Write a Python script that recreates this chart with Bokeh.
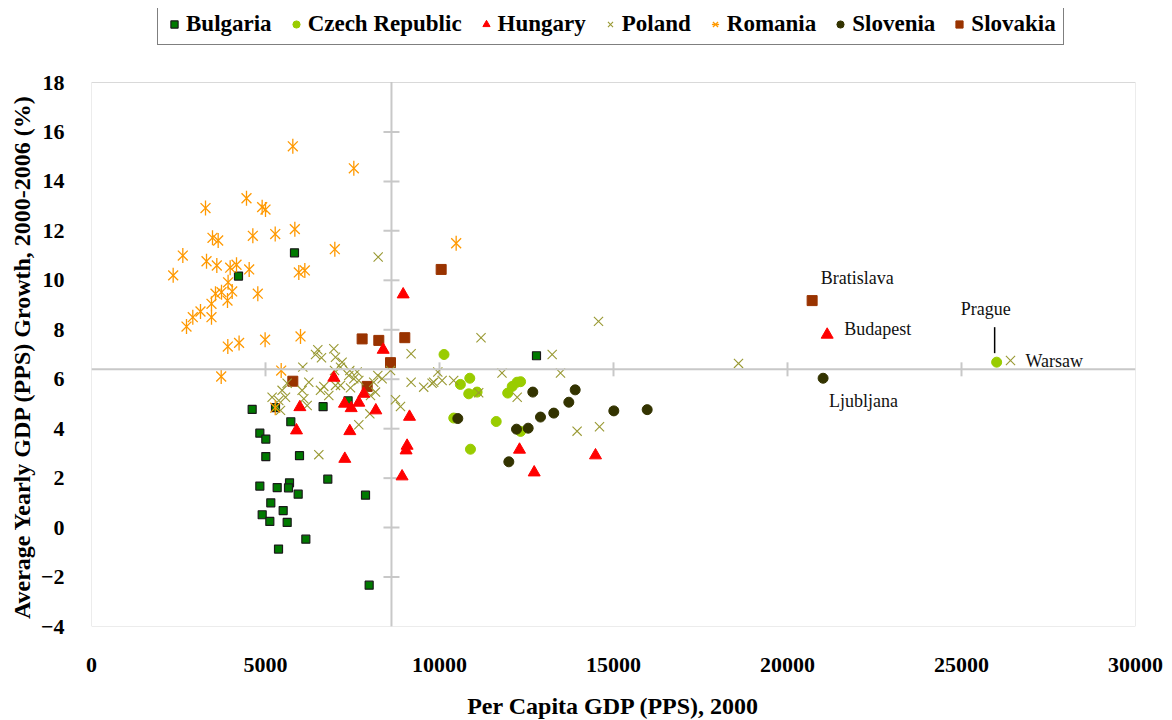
import numpy as np
from bokeh.plotting import figure
from bokeh.models import Legend, LegendItem, Span, FixedTicker, Range1d, BoxAnnotation
from bokeh.core.properties import value
from bokeh.embed import file_html
from bokeh.resources import INLINE

# ---------------- data ----------------
bulgaria_x = [5833, 4224, 4617, 6655, 7374, 5727, 4837, 5009, 5009, 5977, 6790, 4837, 5336, 5690,
              5661, 5939, 7874, 5152, 5508, 4905, 5124, 5623, 6159, 5374, 7979, 12787, 5287]
bulgaria_y = [11.11, 10.17, 4.78, 4.89, 5.13, 4.28, 3.82, 3.58, 2.87, 2.91, 1.96, 1.68, 1.62, 1.81,
              1.61, 1.35, 1.31, 1.00, 0.69, 0.52, 0.25, 0.21, -0.47, -0.87, -2.33, 6.95, 4.85]

czech_x = [10130, 10870, 10600, 10840, 11080, 12230, 12090, 11960, 12330, 10410, 11630, 10890, 12330, 26010]
czech_y = [7.00, 6.04, 5.79, 5.41, 5.48, 5.88, 5.71, 5.44, 5.90, 4.43, 4.29, 3.17, 3.89, 6.69]

hungary_x = [6963, 8382, 5987, 7270, 7462, 7681, 7825, 8170, 9138, 5891, 7423, 9069, 9040, 7279,
             8925, 8956, 12299, 12721, 14483, 21140]
hungary_y = [6.06, 7.19, 4.87, 5.01, 4.83, 5.05, 5.41, 4.74, 4.48, 3.93, 3.90, 3.31, 3.12, 2.78,
             2.07, 9.43, 3.15, 2.23, 2.92, 7.80]

poland_x = [6503, 6609, 6437, 6963, 7011, 7201, 7155, 7422, 7635, 7537, 7681, 7394, 6983, 8227,
            8351, 8109, 8592, 9184, 9184, 9546, 6072, 5621, 5477, 6052, 6244, 6580, 6819, 6675,
            5190, 5382, 5575, 6101, 6198, 7155, 7011, 7443, 8017, 8161, 7998, 8736, 8879, 5431,
            6532, 7681, 9833, 8238, 11193, 13238, 9951, 11796, 13477, 9787, 10075, 10408, 11126,
            12233, 13954, 14598, 14569, 18592, 26408]
poland_y = [7.19, 6.87, 7.00, 7.23, 6.89, 6.69, 6.49, 6.35, 6.29, 6.02, 5.95, 6.15, 6.35, 6.15,
            6.02, 5.88, 6.35, 7.03, 5.88, 5.68, 6.49, 5.84, 5.55, 5.55, 5.88, 5.55, 5.34, 5.71,
            5.27, 5.14, 5.27, 5.21, 4.94, 5.75, 5.75, 5.65, 5.34, 5.48, 4.60, 5.17, 4.90, 4.74,
            2.95, 4.16, 5.88, 10.94, 7.68, 7.00, 6.29, 6.25, 6.25, 5.84, 5.95, 5.95, 5.45,
            5.27, 3.90, 4.08, 8.34, 6.64, 6.76]

romania_x = [5785, 7538, 4454, 3276, 4904, 5000, 5843, 4636, 5279, 3477, 3640, 6992, 2624, 3305,
             3601, 3985, 4167, 4531, 2347, 5957, 6130, 3925, 3563, 3736, 4043, 4779, 3448, 3908,
             3132, 2911, 3448, 2730, 3917, 4241, 4989, 6006, 5451, 3727, 10479, 5280]
romania_y = [15.42, 14.53, 13.32, 12.92, 12.96, 12.86, 12.07, 11.80, 11.87, 11.72, 11.61, 11.26, 11.00, 10.77,
             10.60, 10.51, 10.63, 10.44, 10.20, 10.32, 10.40, 9.92, 9.46, 9.52, 9.55, 9.46, 9.05, 9.18,
             8.74, 8.51, 8.51, 8.13, 7.32, 7.47, 7.60, 7.73, 6.35, 6.11, 11.50, 4.85]

slovenia_x = [12681, 13899, 13716, 15009, 15968, 13284, 12902, 12548, 12213, 10526, 11992, 21023]
slovenia_y = [5.48, 5.57, 5.07, 4.72, 4.77, 4.63, 4.47, 4.02, 3.98, 4.41, 2.66, 6.04]

slovakia_x = [7777, 8256, 9003, 8592, 5785, 7922, 10048, 20708]
slovakia_y = [7.63, 7.57, 7.68, 6.67, 5.92, 5.71, 10.44, 9.18]

x_ticks = [0, 5000, 10000, 15000, 20000, 25000, 30000]
y_ticks = [-4, -2, 0, 2, 4, 6, 8, 10, 12, 14, 16, 18]
x_cross = 8620   # vertical reference line
y_cross = 6.4    # horizontal reference line

x_title = "Per Capita GDP (PPS), 2000"
y_title = "Average Yearly GDP (PPS) Growth, 2000-2006 (%)"

# capital cities (last point of each series)
capitals = ["Bratislava", "Budapest", "Prague", "Warsaw", "Ljubljana"]

# ---------------- figure ----------------
# The drawing frame is extended upward by TOP_PX pixels so that the legend,
# which sits above the plot box, lives inside the (unclipped) frame.
PW, PH = 1044, 544     # plot box in pixels
TOP_PX = 74
x0, x1 = x_ticks[0], x_ticks[-1]
y0, y1 = y_ticks[0], y_ticks[-1]
ux = (x1 - x0) / PW    # data units per pixel
uy = (y1 - y0) / PH
p = figure(frame_width=PW, frame_height=PH + TOP_PX,
           x_range=Range1d(x0, x1), y_range=Range1d(y0, y1 + TOP_PX * uy),
           output_backend="svg", toolbar_location=None,
           min_border_left=91, min_border_right=30, min_border_top=8, min_border_bottom=94)
p.background_fill_color = "white"
p.border_fill_color = "white"
p.outline_line_color = None
p.xgrid.visible = False
p.ygrid.visible = False

# plot box outline
p.add_layout(BoxAnnotation(left=x0, right=x1, bottom=y0, top=y1, fill_color=None, fill_alpha=0,
                           line_color="#808080", line_width=1))

FONT = "Liberation Serif"
for ax in (p.xaxis[0], p.yaxis[0]):
    ax.axis_line_color = None
    ax.major_tick_line_color = None
    ax.minor_tick_line_color = None
    ax.major_label_text_font = FONT
    ax.major_label_text_font_style = "bold"
    ax.major_label_text_font_size = "22px"
    ax.major_label_text_color = "black"
    ax.axis_label_text_font = FONT
    ax.axis_label_text_font_style = "bold"
    ax.axis_label_text_font_size = "24px"
    ax.axis_label_text_color = "black"
p.xaxis.ticker = FixedTicker(ticks=x_ticks)
p.yaxis.ticker = FixedTicker(ticks=y_ticks)
p.xaxis.major_label_standoff = 25
p.yaxis.major_label_standoff = 21
p.xaxis.axis_label = x_title
# trailing no-break spaces re-centre the rotated title on the plot box
# (the frame also holds the legend strip above it)
p.yaxis.axis_label = y_title + "\u00a0" * 13
p.xaxis.axis_label_standoff = 18
p.yaxis.axis_label_standoff = 3

# crosshair reference lines
cross_col = "#c8c8c8"
p.segment(x0=[x_cross], x1=[x_cross], y0=[y0], y1=[y1], line_color=cross_col, line_width=2)
p.add_layout(Span(location=y_cross, dimension="width", line_color=cross_col, line_width=2))
tx = x_ticks[1:-1]
p.segment(x0=tx, x1=tx, y0=[y_cross - 7 * uy] * len(tx), y1=[y_cross + 7 * uy] * len(tx),
          line_color=cross_col, line_width=2)
ty = y_ticks[1:-1]
p.segment(x0=[x_cross - 8 * ux] * len(ty), x1=[x_cross + 8 * ux] * len(ty), y0=ty, y1=ty,
          line_color=cross_col, line_width=2)

# ---------------- series ----------------
r_bg = p.scatter(bulgaria_x, bulgaria_y, marker="square", size=8, fill_color="#007a00",
                 line_color="#1a1a1a", line_width=1.2)
r_slk = p.scatter(slovakia_x, slovakia_y, marker="square", size=10, fill_color="#993300",
                  line_color="#993300")
r_cz = p.scatter(czech_x, czech_y, marker="circle", size=10, fill_color="#99CC00", line_color="#99CC00")
r_slo = p.scatter(slovenia_x, slovenia_y, marker="circle", size=10, fill_color="#333300",
                  line_color="#333300")
r_pl = p.scatter(poland_x, poland_y, marker="x", size=13, line_color="#999933", line_width=1.1)
r_ro1 = p.scatter(romania_x, romania_y, marker="x", size=14, line_color="#FF9900", line_width=1.3)
r_ro2 = p.scatter(romania_x, romania_y, marker="dash", angle=np.pi / 2, size=15,
                  line_color="#FF9900", line_width=1.3)
r_hu = p.scatter(hungary_x, hungary_y, marker="triangle", size=12, fill_color="#FF0000",
                 line_color="#FF0000")

# ---------------- capital labels ----------------
cap_x = [slovakia_x[-1], hungary_x[-1], czech_x[-1], poland_x[-1], slovenia_x[-1]]
cap_y = [slovakia_y[-1], hungary_y[-1], czech_y[-1], poland_y[-1], slovenia_y[-1]]
x_off = [45, 17, -11, 15, 6]
y_off = [-23, -6, -53, 1, 23]
align = ["center", "left", "center", "left", "left"]
p.text(x=cap_x, y=cap_y, text=capitals, x_offset=x_off, y_offset=y_off, text_align=align,
       text_baseline="middle", text_font=value(FONT), text_font_size="18px", text_color="#111111")
# Prague leader line
p.segment(x0=[czech_x[-1] - 2 * ux], x1=[czech_x[-1] - 2 * ux],
          y0=[czech_y[-1] + 9 * uy], y1=[czech_y[-1] + 35 * uy], line_color="black", line_width=1.5)

# ---------------- legend ----------------
legend = Legend(items=[
    LegendItem(label="Bulgaria", renderers=[r_bg]),
    LegendItem(label="Czech Republic", renderers=[r_cz]),
    LegendItem(label="Hungary", renderers=[r_hu]),
    LegendItem(label="Poland", renderers=[r_pl]),
    LegendItem(label="Romania", renderers=[r_ro1, r_ro2]),
    LegendItem(label="Slovenia", renderers=[r_slo]),
    LegendItem(label="Slovakia", renderers=[r_slk]),
], orientation="horizontal", location=(66, PH + 37))
legend.label_text_font = FONT
legend.label_text_font_style = "bold"
legend.label_text_font_size = "23px"
legend.label_text_color = "black"
legend.glyph_width = 18
legend.glyph_height = 20
legend.label_standoff = 3
legend.spacing = 15
legend.padding = 7
legend.margin = 0
legend.border_line_color = "black"
legend.border_line_width = 1.5
legend.background_fill_color = "white"
legend.background_fill_alpha = 1
p.add_layout(legend)

open("out.html", "w").write(file_html(p, INLINE))
